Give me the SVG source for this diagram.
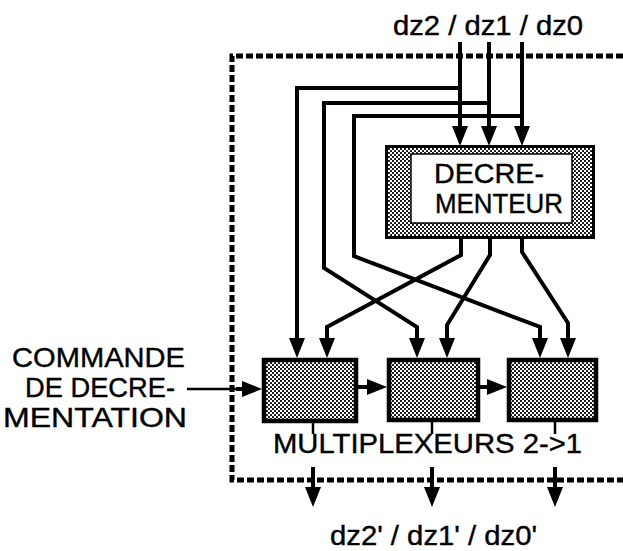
<svg xmlns="http://www.w3.org/2000/svg" width="623" height="551" viewBox="0 0 623 551">
<defs>
<pattern id="dots" width="4" height="4" patternUnits="userSpaceOnUse">
<rect width="4" height="4" fill="#fff"/>
<circle cx="1" cy="1" r="1.05" fill="#000"/>
<circle cx="3" cy="3" r="1.05" fill="#000"/>
</pattern>
<marker id="ah" viewBox="0 0 20 16" refX="8" refY="8" markerWidth="20" markerHeight="16" markerUnits="userSpaceOnUse" orient="auto">
<path d="M0,0 L20,8 L0,16 z" fill="#000"/>
</marker>
</defs>
<style>
text { font-family: "Liberation Sans", Arial, Helvetica, sans-serif; fill: #000; stroke: #000; stroke-width: 0.4; }
.lbl { font-size: 28px; }
.wire { fill: none; stroke: #000; stroke-width: 4; stroke-linejoin: miter; }
.arr { marker-end: url(#ah); }
.thin { fill: none; stroke: #000; stroke-width: 2.5; }
.mux { fill: url(#dots); stroke: #000; stroke-width: 4.5; }
.border { fill: none; stroke: #000; stroke-width: 5; stroke-dasharray: 7 3; }
</style>
<rect width="623" height="551" fill="#fff"/>

<g id="boundary">
<path class="border" d="M623,56 H232 V480 H623"/>
</g>

<g id="decrementeur">
<rect x="386.5" y="146.5" width="207" height="91" fill="url(#dots)" stroke="#000" stroke-width="3"/>
<rect x="411" y="154" width="161" height="69" fill="#fff" stroke="#000" stroke-width="1.5"/>
<text class="lbl" x="434" y="183" font-size="29" textLength="110" lengthAdjust="spacingAndGlyphs">DECRE-</text>
<text class="lbl" x="435" y="213" font-size="29" textLength="128" lengthAdjust="spacingAndGlyphs">MENTEUR</text>
</g>

<g id="mux1"><rect class="mux" x="264" y="360" width="92" height="61"/></g>
<g id="mux2"><rect class="mux" x="389" y="360" width="89" height="60"/></g>
<g id="mux3"><rect class="mux" x="509" y="360" width="87" height="60"/></g>

<g id="connectors">
<path class="wire arr" d="M460,42 V134"/>
<path class="wire arr" d="M489,42 V134"/>
<path class="wire arr" d="M522,42 V134"/>
<path class="wire arr" d="M460,88 H297 V346"/>
<path class="wire arr" d="M489,103 H324 V268 L417,327 V346"/>
<path class="wire arr" d="M522,116 H354 V256 L540,327 V346"/>
<path class="wire arr" d="M461,239 V255 L327,327 V346"/>
<path class="wire arr" d="M490,239 V255 L447,325 V346"/>
<path class="wire arr" d="M522,239 V252 L568,323 V346"/>
<path class="thin" d="M187,389 H240"/>
<path class="wire arr" d="M236,389 H250"/>
<path class="wire arr" d="M358,387 H375"/>
<path class="wire arr" d="M480,387 H495"/>
<path class="thin" d="M313,422 V434"/>
<path class="thin" d="M432,420 V434"/>
<path class="thin" d="M555,420 V434"/>
<path class="wire arr" d="M313,467 V495"/>
<path class="wire arr" d="M432,467 V495"/>
<path class="wire arr" d="M555,467 V495"/>
</g>

<g id="labels">
<text class="lbl" x="393" y="35" textLength="190" lengthAdjust="spacingAndGlyphs">dz2 / dz1 / dz0</text>
<text class="lbl" x="12" y="367" textLength="173" lengthAdjust="spacingAndGlyphs">COMMANDE</text>
<text class="lbl" x="25" y="397" textLength="150" lengthAdjust="spacingAndGlyphs">DE DECRE-</text>
<text class="lbl" x="3" y="427" textLength="184" lengthAdjust="spacingAndGlyphs">MENTATION</text>
<text class="lbl" x="273" y="453" textLength="309" lengthAdjust="spacingAndGlyphs">MULTIPLEXEURS 2-&gt;1</text>
<text class="lbl" x="330" y="545" textLength="207" lengthAdjust="spacingAndGlyphs">dz2' / dz1' / dz0'</text>
</g>
</svg>
